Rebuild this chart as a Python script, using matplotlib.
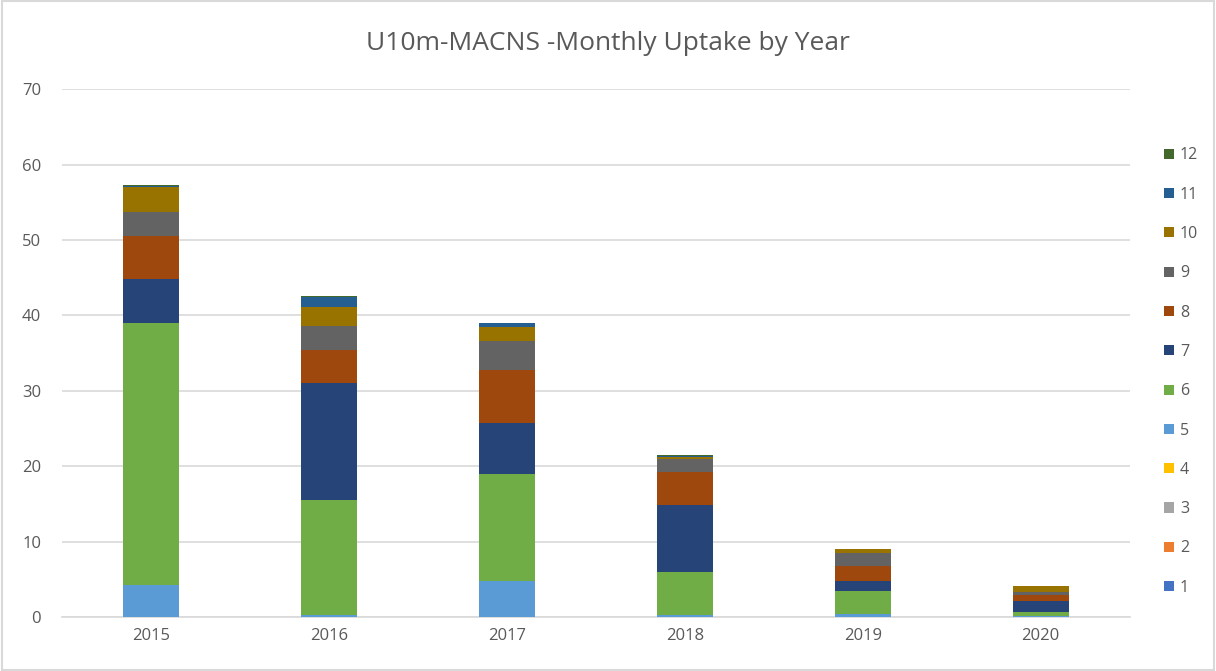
import matplotlib.pyplot as plt
import numpy as np

years = ["2015", "2016", "2017", "2018", "2019", "2020"]
months = [str(m) for m in range(1, 13)]

# uptake per month (rows = month 1..12, columns = year)
m1 = [0, 0, 0, 0, 0, 0]
m2 = [0, 0, 0, 0, 0, 0]
m3 = [0, 0, 0, 0, 0, 0]
m4 = [0, 0, 0, 0, 0, 0]
m5 = [4.3, 0.27, 4.77, 0.27, 0.35, 0.1]
m6 = [34.7, 15.2, 14.2, 5.75, 3.1, 0.6]
m7 = [5.8, 15.55, 6.75, 8.85, 1.3, 1.4]
m8 = [5.75, 4.45, 7.0, 4.3, 2.0, 0.8]
m9 = [3.2, 3.1, 3.85, 1.75, 1.75, 0.45]
m10 = [3.25, 2.5, 1.9, 0.3, 0.5, 0.8]
m11 = [0.2, 1.4, 0.5, 0.15, 0.05, 0.0]
m12 = [0.1, 0.05, 0.0, 0.05, 0.0, 0.0]
values = [m1, m2, m3, m4, m5, m6, m7, m8, m9, m10, m11, m12]

colors = ["#4472C4", "#ED7D31", "#A5A5A5", "#FFC000", "#5B9BD5", "#70AD47",
          "#264478", "#9E480E", "#636363", "#997300", "#255E91", "#43682B"]

plt.rcParams['font.family'] = ['Open Sans', 'DejaVu Sans']

fig = plt.figure(figsize=(12.16, 6.71), dpi=100)
ax = fig.add_axes([0.051, 0.0805, 0.878, 0.7865])

x = np.arange(len(years))
bottom = np.zeros(len(years))
handles = []
for vals, label, color in zip(values, months, colors):
    b = ax.bar(x, vals, width=0.315, bottom=bottom, color=color, label=label, zorder=3)
    handles.append(b)
    bottom += np.array(vals)

ax.set_xlim(-0.5, 5.5)
ax.set_ylim(0, 70)
ax.set_yticks(range(0, 71, 10))
ax.set_xticks(x)
ax.set_xticklabels(years)
ax.grid(axis='y', color='#D9D9D9', linewidth=1.2, zorder=0)
for s in ['top', 'right', 'left']:
    ax.spines[s].set_visible(False)
ax.spines['bottom'].set_color('#D9D9D9')
ax.spines['bottom'].set_linewidth(1.2)
ax.tick_params(length=0, labelsize=12, labelcolor='#595959', pad=8)
ax.tick_params(axis='y', pad=15)

fig.text(0.5, 0.935, "U10m-MACNS -Monthly Uptake by Year", ha='center', va='center',
         fontsize=19, color='#595959')

fig.legend(handles[::-1], months[::-1], loc='upper left', bbox_to_anchor=(0.952, 0.79),
           frameon=False, fontsize=11.5, labelcolor='#595959', handlelength=0.6,
           handleheight=0.6, handletextpad=0.4, labelspacing=1.46, borderaxespad=0)

fig.patches.append(plt.Rectangle((0.002, 0.002), 0.996, 0.996, transform=fig.transFigure,
                                 fill=False, edgecolor='#D9D9D9', linewidth=1.5))

fig.savefig("out.png", dpi=100)
